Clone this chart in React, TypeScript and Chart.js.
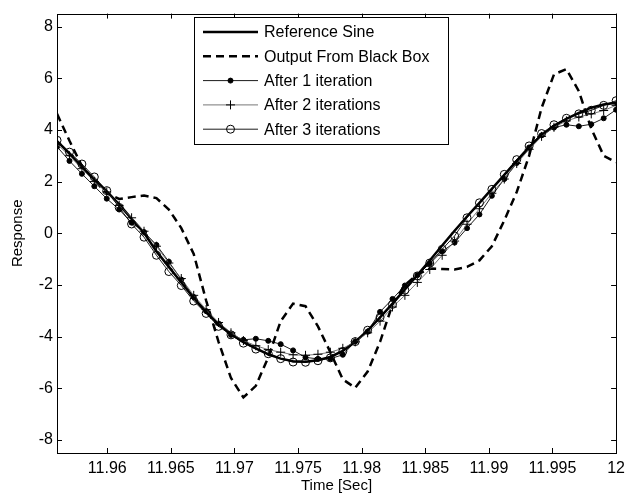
import React, { useEffect, useRef } from 'react';
import { Chart, registerables } from 'chart.js';

Chart.register(...registerables);

// ---- data (sampled at 1024 Hz) ----
const timeSec = [
  11.956055, 11.957031, 11.958008, 11.958984, 11.959961, 11.960938, 11.961914, 11.962891,
  11.963867, 11.964844, 11.96582, 11.966797, 11.967773, 11.96875, 11.969727, 11.970703,
  11.97168, 11.972656, 11.973633, 11.974609, 11.975586, 11.976563, 11.977539, 11.978516,
  11.979492, 11.980469, 11.981445, 11.982422, 11.983398, 11.984375, 11.985352, 11.986328,
  11.987305, 11.988281, 11.989258, 11.990234, 11.991211, 11.992188, 11.993164, 11.994141,
  11.995117, 11.996094, 11.99707, 11.998047, 11.999023, 12.0,
];

const referenceSine = [
  3.57, 3.08, 2.57, 2.08, 1.62, 1.12, 0.56, 0.02, -0.7, -1.3, -1.9, -2.5, -3.05, -3.52, -3.9, -4.2,
  -4.45, -4.68, -4.85, -4.95, -4.97, -4.91, -4.78, -4.55, -4.2, -3.76, -3.25, -2.72, -2.17, -1.62,
  -1.05, -0.47, 0.1, 0.65, 1.18, 1.72, 2.26, 2.8, 3.32, 3.8, 4.15, 4.43, 4.66, 4.86, 4.98, 5.05,
];

const blackBoxOutput = [
  4.62, 3.58, 2.6, 2.05, 1.55, 1.33, 1.4, 1.46, 1.36, 0.92, 0.2, -0.8, -2.6, -4.2, -5.6, -6.35,
  -5.9, -4.8, -3.4, -2.72, -2.82, -3.6, -4.6, -5.65, -5.98, -5.35, -4.2, -2.75, -2.0, -1.6,
  -1.36, -1.38, -1.4, -1.3, -1.05, -0.5, 0.5, 1.6, 3.0, 4.85, 6.15, 6.35, 5.5, 4.05, 3.0, 2.75,
];

const afterIter1 = [
  3.35, 2.8, 2.3, 1.82, 1.34, 0.92, 0.41, 0.05, -0.45, -1.1, -1.79, -2.46, -3.01, -3.49, -3.93, -4.12,
  -4.08, -4.16, -4.29, -4.53, -4.8, -4.86, -4.85, -4.7, -4.19, -3.8, -3.04, -2.54, -2.02, -1.62,
  -1.17, -0.7, -0.36, 0.2, 0.73, 1.45, 2.1, 2.72, 3.32, 3.79, 4.09, 4.2, 4.14, 4.22, 4.45, 4.78,
];

const afterIter2 = [
  3.45, 3.0, 2.5, 2.0, 1.6, 1.08, 0.6, 0.08, -0.5, -1.15, -1.75, -2.4, -2.95, -3.45, -3.85, -4.15,
  -4.35, -4.5, -4.6, -4.7, -4.72, -4.68, -4.6, -4.45, -4.2, -3.85, -3.4, -2.85, -2.4, -1.9,
  -1.4, -0.85, -0.3, 0.35, 0.95, 1.55, 2.1, 2.7, 3.25, 3.75, 4.1, 4.35, 4.5, 4.62, 4.75, 4.95,
];

const afterIter3 = [
  3.6, 3.14, 2.68, 2.18, 1.65, 1.0, 0.36, -0.15, -0.85, -1.48, -2.02, -2.62, -3.1, -3.6, -3.93, -4.25,
  -4.48, -4.66, -4.85, -4.98, -4.99, -4.93, -4.82, -4.57, -4.19, -3.75, -3.25, -2.75, -2.2, -1.65,
  -1.15, -0.62, -0.1, 0.6, 1.18, 1.7, 2.28, 2.85, 3.38, 3.86, 4.2, 4.45, 4.62, 4.76, 4.95, 5.13,
];

const seriesLabels = [
  'Reference Sine',
  'Output From Black Box',
  'After 1 iteration',
  'After 2 iterations',
  'After 3 iterations',
];

const xTickValues = [11.96, 11.965, 11.97, 11.975, 11.98, 11.985, 11.99, 11.995, 12];
const xTickLabels = ['11.96', '11.965', '11.97', '11.975', '11.98', '11.985', '11.99', '11.995', '12'];
const yTickValues = [-8, -6, -4, -2, 0, 2, 4, 6, 8];
const yTickLabels = ['-8', '-6', '-4', '-2', '0', '2', '4', '6', '8'];

const X_MIN = 11.95605;
const X_MAX = 12;
const Y_MIN = -8.5;
const Y_MAX = 8.5;

const FONT = '"Liberation Sans", Arial, Helvetica, sans-serif';

const toPoints = (ys: number[]) => timeSec.map((t, i) => ({ x: t, y: ys[i] }));

function drawMarker(ctx: CanvasRenderingContext2D, style: string, x: number, y: number, r: number, fill: string) {
  ctx.save();
  ctx.strokeStyle = '#000';
  ctx.lineWidth = 1;
  ctx.setLineDash([]);
  if (style === 'cross') {
    ctx.beginPath();
    ctx.moveTo(x - r, y);
    ctx.lineTo(x + r, y);
    ctx.moveTo(x, y - r);
    ctx.lineTo(x, y + r);
    ctx.stroke();
  } else if (style === 'circle') {
    ctx.beginPath();
    ctx.arc(x, y, r, 0, Math.PI * 2);
    ctx.fillStyle = fill;
    ctx.fill();
    ctx.stroke();
  }
  ctx.restore();
}

const framePlugin = {
  id: 'matlabFrame',
  afterDraw(chart: any) {
    const { ctx, chartArea } = chart;
    const { left, right, top, bottom } = chartArea;
    const xs = chart.scales.x;
    const ys = chart.scales.y;
    ctx.save();
    ctx.strokeStyle = '#000';
    ctx.lineWidth = 1;
    ctx.setLineDash([]);
    // inward ticks
    const tl = 5;
    ctx.beginPath();
    xTickValues.forEach((v) => {
      const px = Math.round(xs.getPixelForValue(v)) + 0.5;
      ctx.moveTo(px, bottom);
      ctx.lineTo(px, bottom - tl);
      ctx.moveTo(px, top);
      ctx.lineTo(px, top + tl);
    });
    yTickValues.forEach((v) => {
      const py = Math.round(ys.getPixelForValue(v)) + 0.5;
      ctx.moveTo(left, py);
      ctx.lineTo(left + tl, py);
      ctx.moveTo(right, py);
      ctx.lineTo(right - tl, py);
    });
    ctx.stroke();
    // box
    ctx.strokeRect(Math.round(left) + 0.5, Math.round(top) + 0.5, Math.round(right - left), Math.round(bottom - top));

    // legend
    const lx = 194.5;
    const ly = 17.5;
    const lw = 254;
    const lh = 127;
    ctx.fillStyle = '#fff';
    ctx.fillRect(lx, ly, lw, lh);
    ctx.strokeRect(lx, ly, lw, lh);
    const sx0 = 203;
    const sx1 = 258;
    const ds = chart.data.datasets;
    ctx.font = `16px ${FONT}`;
    ctx.textBaseline = 'middle';
    ctx.textAlign = 'left';
    seriesLabels.forEach((label, i) => {
      const d = ds[i];
      const y = 32 + i * 24.3;
      ctx.save();
      ctx.strokeStyle = d.borderColor;
      ctx.lineWidth = d.borderWidth;
      ctx.setLineDash(d.borderDash || []);
      ctx.beginPath();
      ctx.moveTo(sx0, y);
      ctx.lineTo(sx1, y);
      ctx.stroke();
      ctx.restore();
      if (d.pointRadius > 0) {
        drawMarker(ctx, d.pointStyle, (sx0 + sx1) / 2, y, d.pointRadius, d.pointBackgroundColor);
      }
      ctx.fillStyle = '#000';
      ctx.fillText(label, 264, y + 1);
    });
    ctx.restore();
  },
};

export default function App() {
  const canvasRef = useRef<HTMLCanvasElement | null>(null);

  useEffect(() => {
    if (!canvasRef.current) return;
    Chart.defaults.font.family = FONT;
    const chart = new Chart(canvasRef.current, {
      type: 'line',
      data: {
        datasets: [
          {
            label: seriesLabels[0],
            data: toPoints(referenceSine),
            borderColor: '#000',
            borderWidth: 2.5,
            pointRadius: 0,
            pointStyle: 'circle',
            pointBackgroundColor: '#000',
            tension: 0,
            order: 5,
          },
          {
            label: seriesLabels[1],
            data: toPoints(blackBoxOutput),
            borderColor: '#000',
            borderWidth: 2.5,
            borderDash: [8, 5],
            pointRadius: 0,
            pointStyle: 'circle',
            pointBackgroundColor: '#000',
            tension: 0,
            order: 4,
          },
          {
            label: seriesLabels[2],
            data: toPoints(afterIter1),
            borderColor: '#000',
            borderWidth: 0.9,
            pointStyle: 'circle',
            pointRadius: 2.5,
            pointBorderWidth: 1,
            pointBorderColor: '#000',
            pointBackgroundColor: '#000',
            tension: 0,
            order: 3,
          },
          {
            label: seriesLabels[3],
            data: toPoints(afterIter2),
            borderColor: '#555',
            borderWidth: 0.8,
            pointStyle: 'cross',
            pointRadius: 4.5,
            pointBorderWidth: 1,
            pointBorderColor: '#000',
            pointBackgroundColor: '#000',
            tension: 0,
            order: 2,
          },
          {
            label: seriesLabels[4],
            data: toPoints(afterIter3),
            borderColor: '#000',
            borderWidth: 0.9,
            pointStyle: 'circle',
            pointRadius: 4,
            pointBorderWidth: 1,
            pointBorderColor: '#000',
            pointBackgroundColor: 'rgba(0,0,0,0)',
            tension: 0,
            order: 1,
          },
        ],
      },
      options: {
        animation: false,
        responsive: false,
        devicePixelRatio: 1,
        layout: { padding: { left: 0, right: 11, top: 8, bottom: 0 } },
        plugins: {
          legend: { display: false },
          tooltip: { enabled: false },
        },
        scales: {
          x: {
            type: 'linear',
            min: X_MIN,
            max: X_MAX,
            afterBuildTicks: (s: any) => {
              s.ticks = xTickValues.map((v) => ({ value: v }));
            },
            afterFit: (s: any) => {
              s.height = 47;
            },
            grid: { display: false, drawTicks: false },
            border: { display: false },
            ticks: {
              autoSkip: false,
              maxRotation: 0,
              padding: 6,
              color: '#000',
              font: { size: 16, family: FONT },
              callback: (_v: any, i: number) => xTickLabels[i],
            },
            title: {
              display: true,
              text: 'Time [Sec]',
              color: '#000',
              font: { size: 15, family: FONT },
              padding: { top: 0, bottom: 5 },
            },
          },
          y: {
            type: 'linear',
            min: Y_MIN,
            max: Y_MAX,
            afterBuildTicks: (s: any) => {
              s.ticks = yTickValues.map((v) => ({ value: v }));
            },
            afterFit: (s: any) => {
              s.width = 57;
            },
            grid: { display: false, drawTicks: false },
            border: { display: false },
            ticks: {
              padding: 4,
              color: '#000',
              font: { size: 16, family: FONT },
              callback: (_v: any, i: number) => yTickLabels[i],
            },
            title: {
              display: true,
              text: 'Response',
              color: '#000',
              font: { size: 15, family: FONT },
              padding: { top: 9, bottom: 0 },
            },
          },
        },
      },
      plugins: [framePlugin],
    } as any);
    return () => chart.destroy();
  }, []);

  return (
    <div style={{ position: 'fixed', left: 0, top: 0, width: 631, height: 500, background: '#fff' }}>
      <canvas ref={canvasRef} width={631} height={500} style={{ display: 'block', width: 631, height: 500 }} />
    </div>
  );
}
